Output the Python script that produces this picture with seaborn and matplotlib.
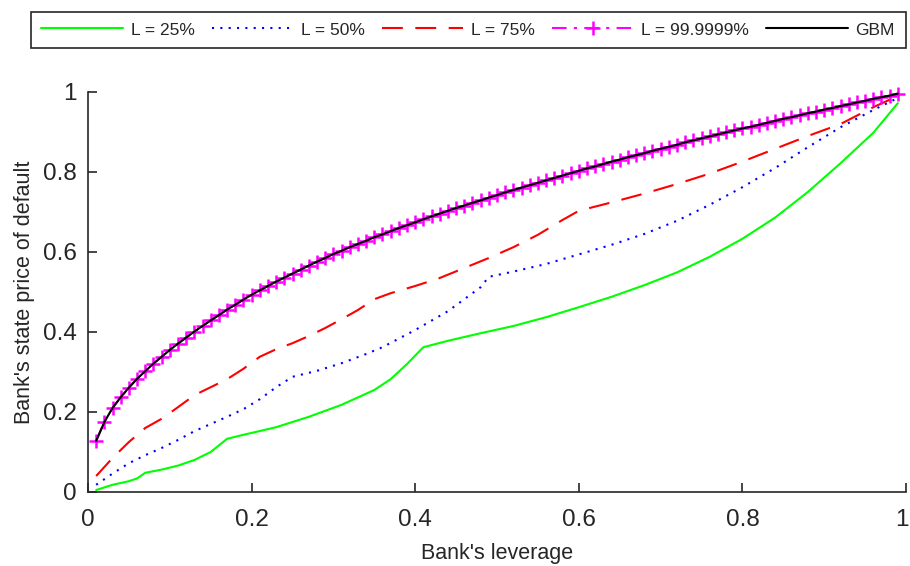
import matplotlib
matplotlib.use("Agg")
import matplotlib.pyplot as plt
import matplotlib.transforms as mtransforms
import seaborn as sns

# ---- data ----
lev = [0.01, 0.02, 0.03, 0.04, 0.05, 0.06, 0.07, 0.08, 0.09, 0.10,
       0.11, 0.12, 0.13, 0.14, 0.15, 0.16, 0.17, 0.18, 0.19, 0.20,
       0.21, 0.22, 0.23, 0.24, 0.25, 0.26, 0.27, 0.28, 0.29, 0.30,
       0.31, 0.32, 0.33, 0.34, 0.35, 0.36, 0.37, 0.38, 0.39, 0.40,
       0.41, 0.42, 0.43, 0.44, 0.45, 0.46, 0.47, 0.48, 0.49, 0.50,
       0.51, 0.52, 0.53, 0.54, 0.55, 0.56, 0.57, 0.58, 0.59, 0.60,
       0.61, 0.62, 0.63, 0.64, 0.65, 0.66, 0.67, 0.68, 0.69, 0.70,
       0.71, 0.72, 0.73, 0.74, 0.75, 0.76, 0.77, 0.78, 0.79, 0.80,
       0.81, 0.82, 0.83, 0.84, 0.85, 0.86, 0.87, 0.88, 0.89, 0.90,
       0.91, 0.92, 0.93, 0.94, 0.95, 0.96, 0.97, 0.98, 0.99]

gbm = [0.128, 0.175, 0.210, 0.237, 0.261, 0.283, 0.302, 0.321, 0.338, 0.355,
       0.371, 0.386, 0.401, 0.415, 0.429, 0.442, 0.456, 0.468, 0.481, 0.493,
       0.504, 0.515, 0.526, 0.536, 0.546, 0.556, 0.566, 0.576, 0.585, 0.595,
       0.603, 0.612, 0.620, 0.628, 0.637, 0.644, 0.652, 0.660, 0.667, 0.674,
       0.682, 0.689, 0.696, 0.703, 0.710, 0.716, 0.723, 0.729, 0.736, 0.742,
       0.749, 0.755, 0.761, 0.767, 0.773, 0.779, 0.785, 0.791, 0.797, 0.803,
       0.809, 0.814, 0.820, 0.826, 0.831, 0.837, 0.842, 0.847, 0.853, 0.858,
       0.863, 0.868, 0.874, 0.879, 0.884, 0.889, 0.894, 0.899, 0.904, 0.909,
       0.913, 0.918, 0.923, 0.928, 0.933, 0.937, 0.942, 0.947, 0.951, 0.956,
       0.960, 0.965, 0.969, 0.974, 0.978, 0.983, 0.987, 0.991, 0.996]

l999999 = gbm  # L = 99.9999% coincides with the GBM curve

x25 = [0.01, 0.03, 0.05, 0.06, 0.07, 0.09, 0.11, 0.13, 0.15, 0.17,
       0.19, 0.23, 0.27, 0.31, 0.35, 0.37, 0.39, 0.41, 0.44, 0.48,
       0.52, 0.56, 0.60, 0.64, 0.68, 0.72, 0.76, 0.80, 0.84, 0.88,
       0.92, 0.96, 0.99]
y25 = [0.005, 0.018, 0.027, 0.034, 0.048, 0.056, 0.066, 0.080, 0.100, 0.133,
       0.143, 0.162, 0.188, 0.218, 0.255, 0.282, 0.320, 0.362, 0.378, 0.397,
       0.415, 0.437, 0.462, 0.488, 0.517, 0.549, 0.588, 0.633, 0.686, 0.750,
       0.822, 0.898, 0.972]

x50 = [0.01, 0.03, 0.05, 0.07, 0.09, 0.11, 0.13, 0.15, 0.17, 0.19,
       0.21, 0.23, 0.25, 0.28, 0.31, 0.34, 0.36, 0.40, 0.44, 0.48,
       0.49, 0.52, 0.56, 0.60, 0.64, 0.68, 0.72, 0.76, 0.80, 0.84,
       0.88, 0.92, 0.96, 0.99]
y50 = [0.018, 0.046, 0.072, 0.092, 0.110, 0.130, 0.152, 0.170, 0.188, 0.207,
       0.232, 0.262, 0.288, 0.303, 0.322, 0.345, 0.362, 0.405, 0.452, 0.512,
       0.538, 0.551, 0.570, 0.594, 0.618, 0.645, 0.678, 0.718, 0.762, 0.810,
       0.862, 0.912, 0.955, 0.985]

x75 = [0.01, 0.03, 0.05, 0.07, 0.09, 0.11, 0.13, 0.15, 0.17, 0.19,
       0.21, 0.23, 0.25, 0.27, 0.29, 0.31, 0.33, 0.35, 0.37, 0.40,
       0.43, 0.46, 0.49, 0.52, 0.55, 0.58, 0.60, 0.64, 0.68, 0.72,
       0.76, 0.80, 0.84, 0.88, 0.92, 0.96, 0.99]
y75 = [0.040, 0.085, 0.125, 0.160, 0.183, 0.212, 0.242, 0.262, 0.282, 0.308,
       0.338, 0.357, 0.372, 0.390, 0.410, 0.432, 0.455, 0.482, 0.497, 0.515,
       0.535, 0.560, 0.585, 0.612, 0.643, 0.680, 0.703, 0.724, 0.746, 0.770,
       0.796, 0.826, 0.858, 0.890, 0.920, 0.962, 0.990]

labels = ["L = 25%", "L = 50%", "L = 75%", "L = 99.9999%", "GBM"]
x_ticks = [0, 0.2, 0.4, 0.6, 0.8, 1]
y_ticks = [0, 0.2, 0.4, 0.6, 0.8, 1]

# ---- styling ----
sns.set_style("ticks")
plt.rcParams["font.family"] = ["Liberation Sans", "DejaVu Sans"]
DARK = "#262626"

fig = plt.figure(figsize=(9.10, 5.66), dpi=100)
ax = fig.add_axes([88 / 910, 74 / 566, 818 / 910, 400 / 566])

lw = 1.5
common = dict(ax=ax, estimator=None, sort=False, clip_on=False)
sns.lineplot(x=x25, y=y25, color="#00ff00", lw=lw, linestyle="-",
             label=labels[0], **common)
sns.lineplot(x=x50, y=y50, color="#0000ff", lw=lw, linestyle=(0, (1, 3)),
             label=labels[1], **common)
sns.lineplot(x=x75, y=y75, color="#ff0000", lw=lw, linestyle=(0, (10, 6)),
             label=labels[2], **common)
sns.lineplot(x=lev, y=l999999, color="#ff00ff", lw=lw,
             linestyle=(0, (7, 3.5, 1.5, 3.5)), marker="+", markersize=10,
             markeredgewidth=1.8, markeredgecolor="#ff00ff",
             label=labels[3], **common)
sns.lineplot(x=lev, y=gbm, color="#000000", lw=lw, linestyle="-",
             label=labels[4], **common)

ax.set_xlim(0, 1)
ax.set_ylim(0, 1)
ax.set_xticks(x_ticks)
ax.set_yticks(y_ticks)
ax.set_xticklabels([f"{t:g}" for t in x_ticks])
ax.set_yticklabels([f"{t:g}" for t in y_ticks])

sns.despine(ax=ax)
for s in ("left", "bottom"):
    ax.spines[s].set_color(DARK)
    ax.spines[s].set_linewidth(1.2)

ax.tick_params(axis="both", direction="in", length=6.5, width=1.2,
               colors=DARK, labelsize=17.5)
ax.tick_params(axis="x", pad=12)
ax.tick_params(axis="y", pad=8)

# keep the right-most x tick label inside the canvas
last = ax.get_xticklabels()[-1]
last.set_transform(last.get_transform() +
                   mtransforms.ScaledTranslation(-4 / 100, 0, fig.dpi_scale_trans))

ax.set_xlabel("Bank's leverage", fontsize=15.5, color=DARK, labelpad=9)
ax.set_ylabel("Bank's state price of default", fontsize=15.5, color=DARK,
              labelpad=6)

handles, labs = ax.get_legend_handles_labels()
leg = ax.legend(handles, labs, loc="lower left",
                bbox_to_anchor=(30.7 / 910, (566 - 48.3) / 566, 875 / 910, 36.6 / 566),
                bbox_transform=fig.transFigure, mode="expand", ncol=5,
                fontsize=12.5, handlelength=4.7, handletextpad=0.45,
                columnspacing=0.9, borderpad=0.62, borderaxespad=0,
                frameon=True, fancybox=False, framealpha=1, numpoints=1)
leg.get_frame().set_edgecolor(DARK)
leg.get_frame().set_linewidth(1.2)

fig.savefig("out.png", dpi=100)
